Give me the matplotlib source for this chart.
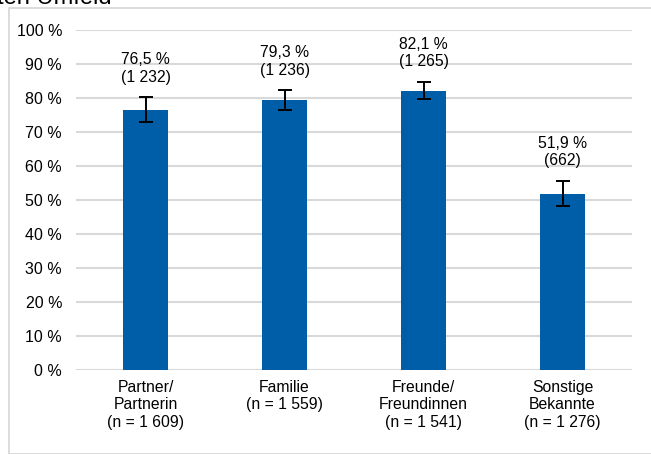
import matplotlib
matplotlib.use("Agg")
import matplotlib.pyplot as plt
from matplotlib.patches import Rectangle

plt.rcParams['font.family'] = ['Liberation Sans', 'DejaVu Sans']

categories = ["Partner/\nPartnerin\n(n = 1 609)", "Familie\n(n = 1 559)",
              "Freunde/\nFreundinnen\n(n = 1 541)", "Sonstige\nBekannte\n(n = 1 276)"]
values = [76.5, 79.3, 82.1, 51.9]
counts = ["1 232", "1 236", "1 265", "662"]
err_low = [3.5, 2.8, 2.5, 3.7]
err_high = [3.7, 3.0, 2.7, 3.8]
yticks = [0, 10, 20, 30, 40, 50, 60, 70, 80, 90, 100]

W, H = 651, 454
fig = plt.figure(figsize=(W / 100, H / 100), dpi=100)

# outer border
fig.patches.append(Rectangle((9 / W, 0), 1, 1 - 8 / H, transform=fig.transFigure,
                             fill=False, edgecolor='#d9d9d9', linewidth=1.3))
fig.text(-3 / W, 1 - 4 / H, "ten Umfeld", fontsize=17, va='baseline', ha='left')

ax = fig.add_axes([76 / W, 1 - 370 / H, (632 - 76) / W, 340 / H])
x = list(range(len(values)))
ax.bar(x, values, width=0.317, color='#005EA8', zorder=3)
ax.errorbar(x, values, yerr=[err_low, err_high], fmt='none', ecolor='black',
            elinewidth=1.4, capsize=5, capthick=1.4, zorder=4)
for xi, v, c, eh in zip(x, values, counts, err_high):
    lbl = f"{v:.1f}".replace('.', ',') + " %\n(" + c + ")"
    ax.annotate(lbl, (xi, v + eh), xytext=(0, 9), textcoords='offset points',
                ha='center', va='bottom', fontsize=11.3, linespacing=1.2)

ax.set_xlim(-0.5, 3.5)
ax.set_ylim(0, 100)
ax.set_yticks(yticks)
ax.set_yticklabels([f"{t} %" for t in yticks], fontsize=11.5)
ax.set_xticks(x)
ax.set_xticklabels(categories, fontsize=11.3, linespacing=1.2)
ax.tick_params(axis='both', length=0)
ax.tick_params(axis='y', pad=10)
ax.tick_params(axis='x', pad=7)
ax.grid(axis='y', color='#d9d9d9', linewidth=1.5, zorder=0)
for s in ax.spines.values():
    s.set_visible(False)

fig.savefig("out.png", dpi=100)
